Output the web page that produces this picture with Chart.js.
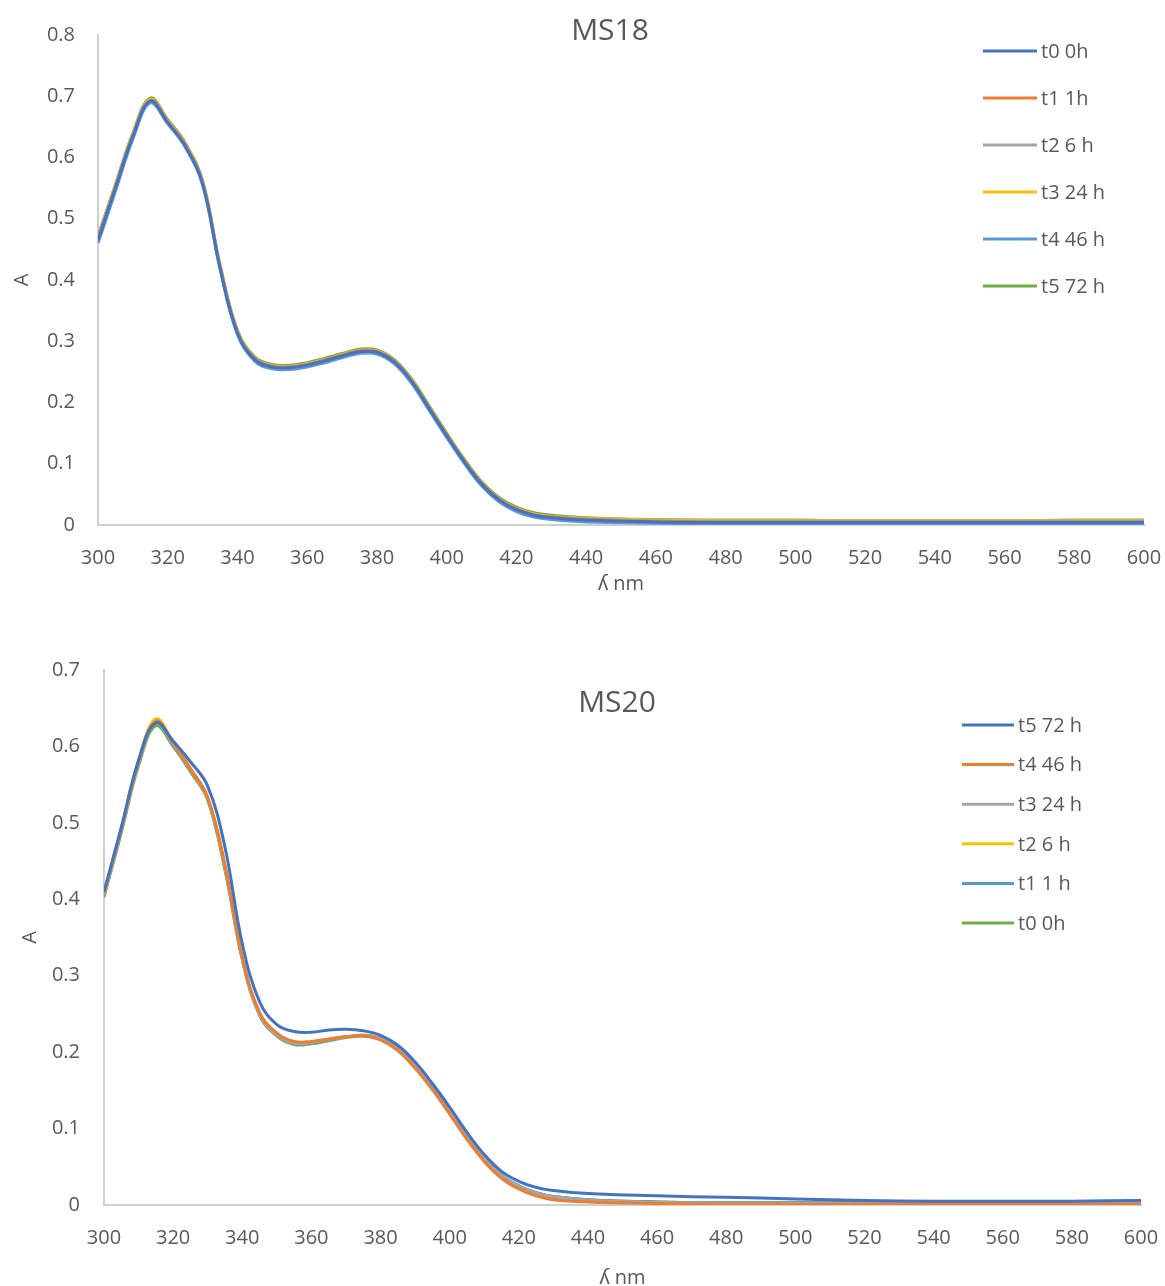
<!DOCTYPE html>
<html>
<head>
<meta charset="utf-8">
<title>MS18 / MS20</title>
<script src="https://cdn.jsdelivr.net/npm/chart.js@4.4.1/dist/chart.umd.min.js"></script>
<style>
  html, body { margin: 0; padding: 0; background: #fff; overflow: hidden; }
  #wrap { position: relative; width: 1165px; height: 1286px; overflow: hidden; }
  canvas { position: absolute; left: 0; }
  #cMS18 { top: 0; }
  #cMS20 { top: 606px; }
</style>
</head>
<body>
<div id="wrap">
  <canvas id="cMS18" width="1165" height="600"></canvas>
  <canvas id="cMS20" width="1165" height="683"></canvas>
</div>
<script>
// --- DATA: spektrum absorbansi (A) vs panjang gelombang (nm) ---
const nm = [300,305,310,315,320,325,330,335,340,345,350,355,360,365,370,375,380,385,390,395,400,405,410,415,420,425,430,440,460,480,500,520,540,560,580,600];

const ms18_t0 = [0.465,0.550,0.634,0.692,0.657,0.619,0.557,0.420,0.313,0.270,0.258,0.257,0.261,0.268,0.276,0.283,0.282,0.266,0.234,0.190,0.146,0.104,0.067,0.041,0.025,0.016,0.012,0.008,0.005,0.004,0.004,0.004,0.004,0.004,0.004,0.004];
const ms18_t1 = [0.466,0.551,0.635,0.693,0.658,0.620,0.558,0.421,0.314,0.271,0.259,0.258,0.262,0.269,0.277,0.284,0.283,0.267,0.235,0.191,0.147,0.105,0.068,0.042,0.026,0.017,0.013,0.009,0.006,0.005,0.005,0.005,0.005,0.005,0.005,0.005];
const ms18_t2 = [0.467,0.552,0.636,0.693,0.659,0.621,0.559,0.422,0.315,0.271,0.259,0.258,0.262,0.269,0.277,0.284,0.283,0.267,0.235,0.191,0.147,0.105,0.068,0.042,0.026,0.017,0.013,0.010,0.007,0.006,0.006,0.006,0.006,0.006,0.006,0.006];
const ms18_t3 = [0.469,0.554,0.638,0.695,0.660,0.622,0.560,0.423,0.316,0.272,0.260,0.259,0.263,0.270,0.278,0.285,0.284,0.268,0.236,0.192,0.148,0.106,0.069,0.043,0.027,0.018,0.014,0.011,0.008,0.007,0.007,0.007,0.007,0.007,0.007,0.007];
const ms18_t4 = [0.460,0.545,0.630,0.689,0.655,0.617,0.555,0.418,0.311,0.267,0.255,0.254,0.258,0.265,0.273,0.280,0.279,0.263,0.231,0.187,0.143,0.101,0.064,0.038,0.022,0.013,0.009,0.005,0.003,0.002,0.002,0.002,0.002,0.002,0.002,0.002];
const ms18_t5 = [0.472,0.556,0.640,0.697,0.662,0.624,0.562,0.425,0.318,0.274,0.262,0.261,0.265,0.272,0.280,0.287,0.286,0.270,0.238,0.194,0.150,0.108,0.071,0.045,0.029,0.020,0.016,0.012,0.009,0.008,0.008,0.007,0.007,0.007,0.008,0.008];

const ms20_t5 = [0.410,0.494,0.582,0.631,0.607,0.580,0.548,0.468,0.342,0.266,0.236,0.227,0.226,0.229,0.230,0.228,0.222,0.209,0.187,0.159,0.128,0.095,0.066,0.044,0.031,0.023,0.019,0.015,0.012,0.010,0.008,0.006,0.005,0.005,0.005,0.006];
const ms20_t4 = [0.408,0.492,0.580,0.633,0.605,0.571,0.533,0.444,0.324,0.252,0.225,0.214,0.214,0.217,0.220,0.221,0.216,0.202,0.179,0.151,0.119,0.086,0.057,0.035,0.021,0.012,0.007,0.004,0.002,0.001,0.001,0.001,0.001,0.001,0.001,0.001];
const ms20_t3 = [0.406,0.490,0.578,0.631,0.603,0.570,0.532,0.442,0.322,0.250,0.223,0.212,0.213,0.217,0.220,0.222,0.218,0.205,0.182,0.154,0.122,0.089,0.060,0.038,0.024,0.015,0.010,0.006,0.003,0.002,0.002,0.002,0.002,0.002,0.003,0.003];
const ms20_t2 = [0.408,0.493,0.582,0.636,0.606,0.571,0.533,0.443,0.322,0.250,0.223,0.212,0.213,0.217,0.220,0.222,0.218,0.205,0.182,0.154,0.122,0.089,0.060,0.038,0.024,0.015,0.010,0.006,0.003,0.002,0.002,0.002,0.002,0.002,0.003,0.003];
const ms20_t1 = [0.407,0.492,0.580,0.633,0.604,0.570,0.532,0.442,0.322,0.249,0.222,0.211,0.212,0.216,0.220,0.222,0.218,0.205,0.183,0.155,0.123,0.090,0.061,0.039,0.025,0.016,0.011,0.007,0.004,0.003,0.003,0.003,0.003,0.003,0.003,0.003];
const ms20_t0 = [0.403,0.487,0.575,0.627,0.600,0.567,0.530,0.438,0.322,0.248,0.221,0.210,0.211,0.215,0.219,0.221,0.218,0.205,0.183,0.155,0.123,0.090,0.061,0.039,0.025,0.016,0.011,0.007,0.004,0.003,0.003,0.003,0.003,0.003,0.004,0.004];

// warna seri (palet Office)
const cBiru = '#4472C4', cOranye = '#ED7D31', cAbu = '#A5A5A5', cKuning = '#FFC000', cBiruMuda = '#5B9BD5', cHijau = '#70AD47';

const FONT = "'Open Sans', 'Noto Sans', sans-serif";
const TEKS = '#595959';
const GARIS_SUMBU = '#CFCFCF';

function toPoints(xs, ys) {
    return xs.map((x, i) => ({ x: x, y: ys[i] }));
}

function makeDataset(label, ys, color) {
    return {
        label: label, data: toPoints(nm, ys), borderColor: color, backgroundColor: color,
        borderWidth: 3, pointRadius: 0, tension: 0.4, fill: false
    };
}

// judul + legenda digambar manual di atas area plot
const overlayPlugin = {
    id: 'overlay',
    afterDraw(chart, args, opts) {
        const ctx = chart.ctx;
        ctx.save();
        ctx.fillStyle = TEKS;
        ctx.font = `${opts.titleSize}px ${FONT}`;
        ctx.textAlign = 'center';
        ctx.textBaseline = 'middle';
        ctx.fillText(opts.title, opts.titleX, opts.titleY);

        ctx.font = `20px ${FONT}`;
        ctx.textAlign = 'left';
        chart.data.datasets.forEach((ds, i) => {
            const y = opts.legendY + i * opts.legendStep;
            ctx.strokeStyle = ds.borderColor;
            ctx.lineWidth = 3;
            ctx.beginPath();
            ctx.moveTo(opts.legendX, y);
            ctx.lineTo(opts.legendX + opts.lineLen, y);
            ctx.stroke();
            ctx.fillStyle = TEKS;
            ctx.fillText(ds.label, opts.legendX + opts.lineLen + 4, y + 1);
        });
        ctx.restore();
    }
};

function makeChart(canvasId, datasets, cfg) {
    return new Chart(document.getElementById(canvasId).getContext('2d'), {
        type: 'line',
        data: { datasets: datasets },
        plugins: [overlayPlugin],
        options: {
            responsive: false, animation: false, devicePixelRatio: 1,
            layout: { padding: { left: 0, right: cfg.padRight, top: cfg.padTop, bottom: 0 } },
            plugins: { legend: { display: false }, tooltip: { enabled: false }, overlay: cfg.overlay },
            scales: {
                x: {
                    type: 'linear', min: 300, max: 600,
                    afterFit: s => { s.height = cfg.xHeight; s.paddingLeft = 0; s.paddingRight = 0; },
                    grid: { drawOnChartArea: false, drawTicks: false },
                    border: { color: GARIS_SUMBU, width: 2 },
                    ticks: { stepSize: 20, padding: cfg.xTickPad, color: TEKS, font: { family: FONT, size: 20 }, maxRotation: 0 },
                    title: { display: true, text: 'ʎ nm', color: TEKS, font: { family: FONT, size: 20, lineHeight: 1 }, padding: { top: 0, bottom: cfg.xTitlePad } }
                },
                y: {
                    min: 0, max: cfg.yMax,
                    afterFit: s => { s.width = cfg.yWidth; },
                    grid: { drawOnChartArea: false, drawTicks: false },
                    border: { color: GARIS_SUMBU, width: 2 },
                    ticks: { stepSize: 0.1, padding: cfg.yTickPad, color: TEKS, font: { family: FONT, size: 20 },
                        callback: v => v === 0 ? '0' : v.toFixed(1) },
                    title: { display: true, text: 'A', color: TEKS, font: { family: FONT, size: 20, lineHeight: 1 }, padding: { top: cfg.yTitlePad, bottom: 0 } }
                }
            }
        }
    });
}

// --- GRAFIK MS18 ---
makeChart('cMS18', [
    makeDataset('t0 0h', ms18_t0, cBiru),
    makeDataset('t1 1h', ms18_t1, cOranye),
    makeDataset('t2 6 h', ms18_t2, cAbu),
    makeDataset('t3 24 h', ms18_t3, cKuning),
    makeDataset('t4 46 h', ms18_t4, cBiruMuda),
    makeDataset('t5 72 h', ms18_t5, cHijau)
], {
    yMax: 0.8, padTop: 33, padRight: 21, xHeight: 75, yWidth: 98,
    xTickPad: 21, xTitlePad: 6, yTickPad: 23, yTitlePad: 12,
    overlay: { title: 'MS18', titleSize: 30, titleX: 610, titleY: 31, legendX: 983, legendY: 51, legendStep: 47, lineLen: 54 }
});

// --- GRAFIK MS20 ---
makeChart('cMS20', [
    makeDataset('t5 72 h', ms20_t5, cBiru),
    makeDataset('t4 46 h', ms20_t4, cOranye),
    makeDataset('t3 24 h', ms20_t3, cAbu),
    makeDataset('t2 6 h', ms20_t2, cKuning),
    makeDataset('t1 1 h', ms20_t1, cBiruMuda),
    makeDataset('t0 0h', ms20_t0, cHijau)
], {
    yMax: 0.7, padTop: 64, padRight: 24, xHeight: 84, yWidth: 104,
    xTickPad: 21, xTitlePad: 1, yTickPad: 24, yTitlePad: 20,
    overlay: { title: 'MS20', titleSize: 30, titleX: 617, titleY: 97, legendX: 962, legendY: 119, legendStep: 39.6, lineLen: 52 }
});
</script>
</body>
</html>
